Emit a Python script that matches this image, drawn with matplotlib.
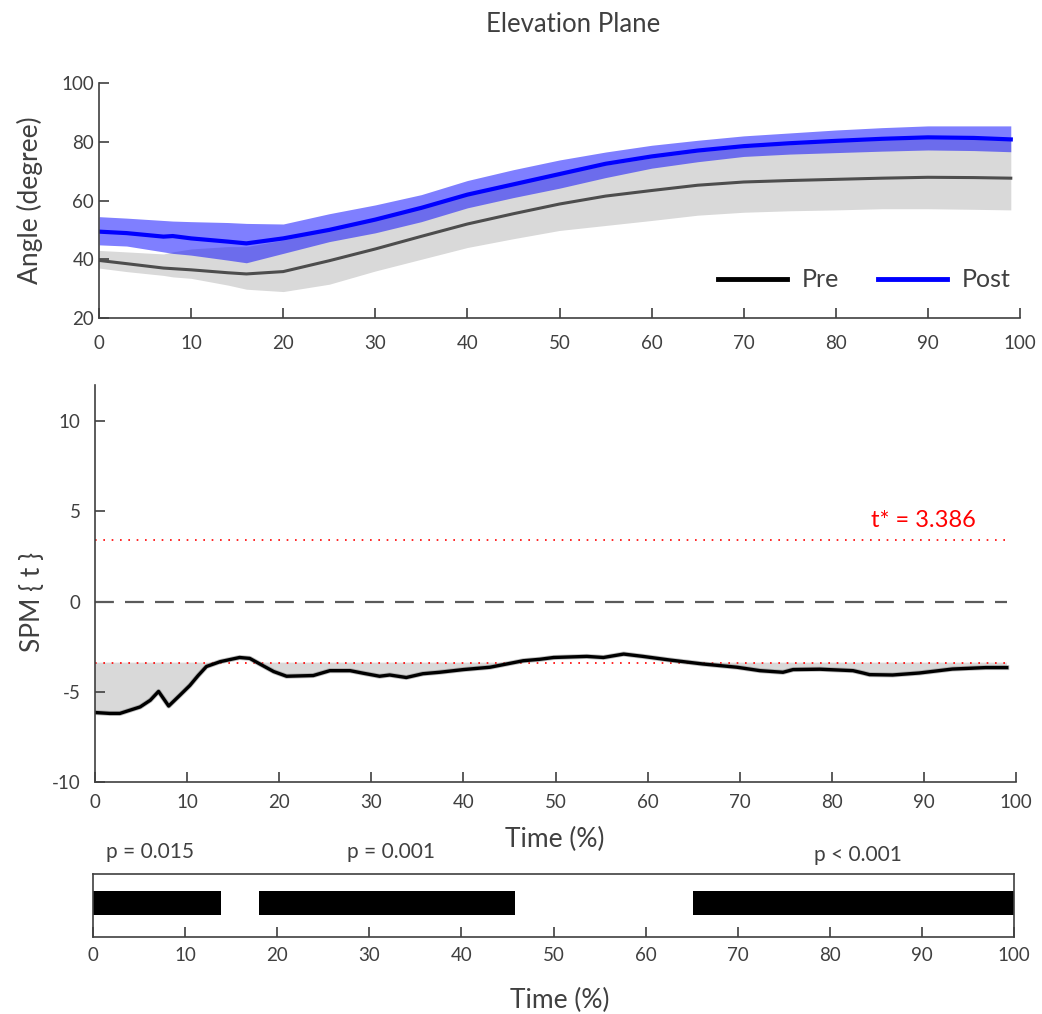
import matplotlib
matplotlib.use("Agg")
import matplotlib.pyplot as plt
from matplotlib.lines import Line2D
import numpy as np

plt.rcParams['font.family'] = ['Lato', 'DejaVu Sans']
TXT = '#404040'
plt.rcParams['text.color'] = TXT
plt.rcParams['axes.labelcolor'] = TXT
plt.rcParams['xtick.color'] = TXT
plt.rcParams['ytick.color'] = TXT
FS = 13.5      # tick labels
FL = 19        # axis labels
FT = 18.5      # title

# ---- Data: mean angle curves with bands (top panel) ----
time_pts = [0, 3, 7, 8, 10, 14, 16, 20, 25, 30, 35, 40, 45, 50, 55, 60, 65, 70, 75, 80, 85, 90, 95, 99]
pre_mean = [39.6, 38.5, 37.0, 36.8, 36.4, 35.4, 35.0, 35.8, 39.5, 43.5, 47.8, 52.0, 55.5, 58.8,
            61.5, 63.4, 65.2, 66.3, 66.8, 67.2, 67.6, 67.9, 67.8, 67.6]
pre_lo = [37.0, 35.8, 34.5, 34.0, 33.5, 31.2, 29.8, 29.0, 31.5, 36.0, 40.0, 44.0, 47.0, 49.8,
          51.5, 53.2, 55.0, 56.0, 56.5, 56.8, 57.2, 57.2, 57.0, 56.8]
pre_hi = [43.0, 42.5, 41.8, 42.5, 43.5, 44.3, 44.3, 46.5, 50.0, 53.5, 57.5, 62.0, 66.0, 69.0,
          72.0, 74.5, 76.5, 78.0, 79.0, 80.0, 80.5, 81.0, 80.8, 80.5]
post_mean = [49.4, 48.9, 47.7, 47.9, 47.1, 46.0, 45.4, 47.1, 50.0, 53.5, 57.5, 62.0, 65.5, 69.0,
             72.5, 75.0, 77.0, 78.5, 79.5, 80.3, 81.0, 81.5, 81.3, 80.8]
post_lo = [44.9, 44.5, 42.5, 42.0, 41.4, 39.7, 38.8, 42.0, 46.0, 49.0, 52.8, 57.5, 61.0, 64.2,
           67.8, 71.0, 73.2, 75.0, 75.8, 76.3, 76.8, 77.2, 77.0, 76.6]
post_hi = [54.5, 54.0, 53.2, 53.0, 52.8, 52.5, 52.2, 52.0, 55.5, 58.5, 62.0, 66.8, 70.5, 73.8,
           76.5, 78.8, 80.5, 82.0, 83.0, 84.0, 84.8, 85.4, 85.4, 85.4]

# ---- Data: SPM{t} trajectory (middle panel) ----
spm_x = [0, 1.6, 2.7, 4.9, 6.0, 6.9, 8.0, 9.2, 10.3, 11.2, 12.1, 13.6, 15.7, 16.8, 17.9, 19.4,
         20.8, 23.7, 25.5, 27.7, 29.1, 30.9, 32.0, 33.8, 35.6, 37.4, 40.0, 42.9, 44.7, 46.5,
         48.3, 49.8, 53.4, 55.2, 57.4, 59.5, 62.4, 66.0, 69.7, 72.2, 74.7, 75.8, 78.7, 82.3,
         83.4, 84.1, 86.6, 89.5, 93.1, 96.7, 99.0]
spm_t = [-6.15, -6.2, -6.2, -5.84, -5.47, -4.98, -5.79, -5.2, -4.65, -4.1, -3.6, -3.33, -3.1,
         -3.15, -3.46, -3.88, -4.14, -4.1, -3.83, -3.83, -3.97, -4.14, -4.07, -4.21, -4.0,
         -3.92, -3.77, -3.64, -3.46, -3.28, -3.2, -3.1, -3.04, -3.1, -2.91, -3.04, -3.24,
         -3.46, -3.64, -3.83, -3.92, -3.77, -3.75, -3.83, -3.96, -4.05, -4.07, -3.96, -3.74,
         -3.66, -3.66]
t_crit = 3.386

# ---- Data: significant clusters (bottom panel) ----
cluster_start = [0, 18.0, 65.1]
cluster_end = [13.9, 45.8, 100]
cluster_p = ['p = 0.015', 'p = 0.001', 'p < 0.001']
cluster_label_x = [6.2, 32.4, 83.1]
cluster_label_y = [1.35, 1.35, 1.30]

ticks = [0, 10, 20, 30, 40, 50, 60, 70, 80, 90, 100]

fig = plt.figure(figsize=(10.42, 10.14), dpi=100)
W, H = 1042, 1014


def ax_rect(x0, x1, ytop, ybot):
    return [x0 / W, 1 - ybot / H, (x1 - x0) / W, (ybot - ytop) / H]


def style(ax):
    for s in ['top', 'right']:
        ax.spines[s].set_visible(False)
    for s in ['left', 'bottom']:
        ax.spines[s].set_color('#404040')
        ax.spines[s].set_linewidth(1.2)
    ax.tick_params(direction='in', length=7, width=1.2, labelsize=FS, color='#404040')


# Top panel
ax1 = fig.add_axes(ax_rect(99, 1020, 83, 318))
style(ax1)
ax1.tick_params(axis='x', pad=12.5)
ax1.fill_between(time_pts, pre_lo, pre_hi, color='#d9d9d9', lw=0)
ax1.fill_between(time_pts, post_lo, post_hi, color='blue', alpha=0.5, lw=0)
ax1.plot(time_pts, pre_mean, color='#4d4d4d', lw=2.2)
ax1.plot(time_pts, post_mean, color='blue', lw=3)
ax1.set_xlim(0, 100)
ax1.set_ylim(20, 100)
ax1.set_xticks(ticks)
ax1.set_yticks([20, 40, 60, 80, 100])
ax1.set_ylabel('Angle (degree)', fontsize=FL)
ax1.yaxis.set_label_coords(-0.075, 0.5)
ax1.yaxis.label.set_va('center')
handles = [Line2D([], [], color='black', lw=3.5), Line2D([], [], color='blue', lw=3.5)]
ax1.legend(handles, ['Pre', 'Post'], ncol=2, loc='center right', bbox_to_anchor=(0.99, 0.162),
           frameon=False, fontsize=18, handlelength=2.76, handletextpad=0.6,
           columnspacing=1.56, borderpad=0, borderaxespad=0)

# Middle panel
ax2 = fig.add_axes(ax_rect(95, 1016, 385, 782))
style(ax2)
ax2.tick_params(axis='x', pad=8.5)
ax2.tick_params(axis='y', pad=10.5)
spm_x_arr = np.array(spm_x)
spm_t_arr = np.array(spm_t)
ax2.fill_between(spm_x_arr, spm_t_arr, -t_crit, where=spm_t_arr <= -t_crit + 0.05,
                 interpolate=True, color='#d9d9d9', lw=0)
ax2.plot([0, 99], [0, 0], color='#5a5a5a', lw=1.6, dashes=(8.5, 5))
ax2.plot([0, 99], [t_crit, t_crit], color='red', lw=1.2, ls=(0, (1, 4)))
ax2.plot([0, 99], [-t_crit, -t_crit], color='red', lw=1.2, ls=(0, (1, 4)))
ax2.plot(spm_x, spm_t, color='#808080', lw=3.6, solid_joinstyle='round', alpha=0.5)
ax2.plot(spm_x, spm_t, color='black', lw=2.4, solid_joinstyle='round')
ax2.text(90, 4.5, 't* = 3.386', color='red', fontsize=17, ha='center', va='center')
ax2.set_xlim(0, 100)
ax2.set_ylim(-10, 12)
ax2.set_xticks(ticks)
ax2.set_yticks([-10, -5, 0, 5, 10])
ax2.set_yticklabels(['-10', '-5', '0', '5', '10'])
ax2.set_ylabel('SPM { t }', fontsize=FL)
ax2.yaxis.set_label_coords(-0.0675, 0.453)
ax2.yaxis.label.set_va('center')
ax2.set_xlabel('Time (%)', fontsize=FL)
ax2.xaxis.set_label_coords(0.4995, -0.146)
ax2.xaxis.label.set_va('center')

# Bottom panel
ax3 = fig.add_axes(ax_rect(93, 1014, 874, 937))
for s in ax3.spines.values():
    s.set_color('#404040')
    s.set_linewidth(1.2)
for a, b in zip(cluster_start, cluster_end):
    ax3.barh(0.54, b - a, left=a, height=0.38, color='black')
for lab, lx, ly in zip(cluster_p, cluster_label_x, cluster_label_y):
    ax3.text(lx, ly, lab, fontsize=15, ha='center', va='center',
             transform=ax3.get_xaxis_transform())
ax3.set_xlim(0, 100)
ax3.set_ylim(0, 1)
ax3.set_xticks(ticks)
ax3.set_yticks([])
ax3.tick_params(axis='x', direction='in', length=7, width=1.2, labelsize=FS, pad=7.5,
                color='#404040')
ax3.set_xlabel('Time (%)', fontsize=FL)
ax3.xaxis.set_label_coords(0.507, -1.0)
ax3.xaxis.label.set_va('center')

fig.text(573 / W, 1 - 25 / H, 'Elevation Plane', fontsize=FT, ha='center', va='center')

fig.savefig('out.png', dpi=100)
